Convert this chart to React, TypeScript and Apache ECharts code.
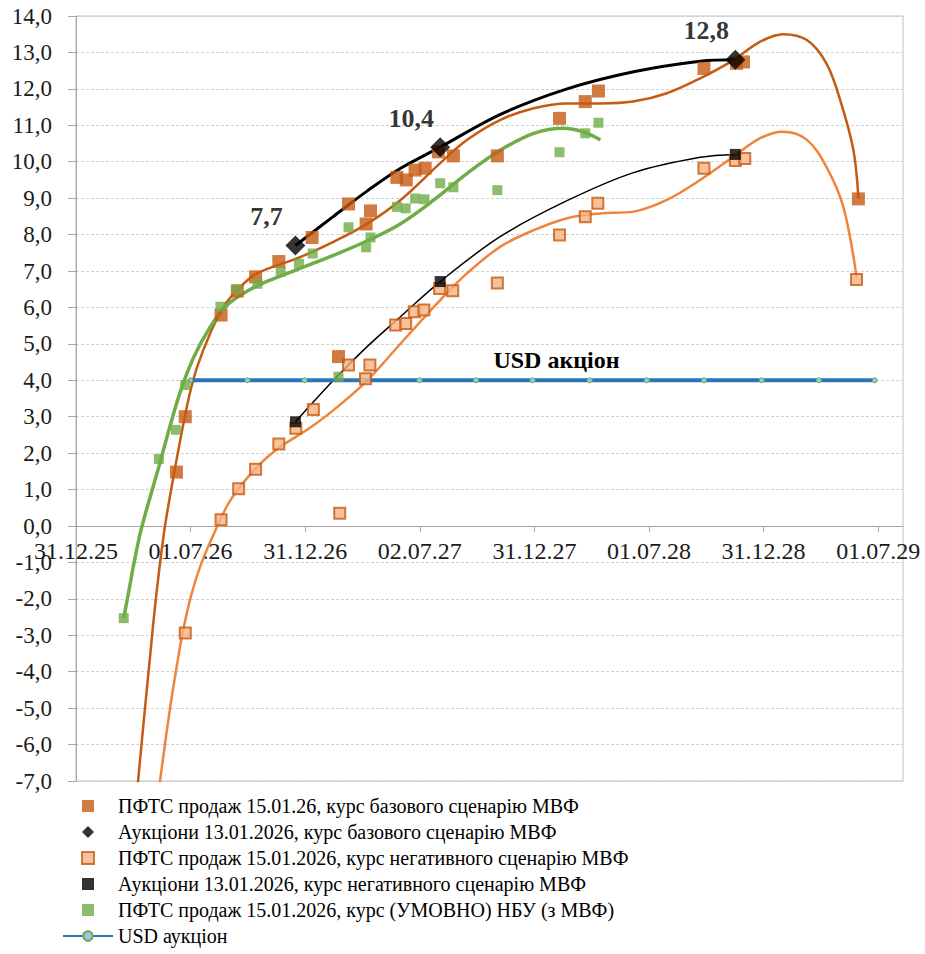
import React, { useEffect, useRef } from "react";
import * as echarts from "echarts";

// X values are days after 31.12.2025
const tickLabels = ["31.12.25", "01.07.26", "31.12.26", "02.07.27", "31.12.27", "01.07.28", "31.12.28", "01.07.29"];
const tickStep = 182.5;
const xMax = 1317;
const yMin = -7;
const yMax = 14;

const seriesNames = [
  "ПФТС продаж 15.01.26, курс базового сценарію МВФ",
  "Аукціони 13.01.2026, курс базового сценарію МВФ",
  "ПФТС продаж 15.01.2026, курс негативного сценарію МВФ",
  "Аукціони 13.01.2026, курс негативного сценарію МВФ",
  "ПФТС продаж 15.01.2026, курс (УМОВНО) НБУ (з МВФ)",
  "USD аукціон",
];
const usdLabelText = "USD акціон";

const baseDays = [160, 174, 231, 257, 286, 323, 376, 418, 434, 462, 469, 511, 526, 540, 556, 577, 601, 671, 770, 811, 832, 1000, 1052, 1063, 1246];
const baseVals = [1.48, 3.0, 5.79, 6.45, 6.84, 7.26, 7.92, 4.65, 8.84, 8.29, 8.65, 9.57, 9.5, 9.77, 9.82, 10.27, 10.16, 10.16, 11.19, 11.65, 11.94, 12.56, 12.7, 12.74, 8.98];

const negDays = [174, 231, 259, 286, 323, 350, 378, 420, 434, 461, 468, 509, 525, 539, 554, 579, 600, 671, 770, 811, 831, 1000, 1050, 1065, 1243];
const negVals = [-2.94, 0.17, 1.02, 1.56, 2.25, 2.68, 3.2, 0.35, 4.42, 4.04, 4.42, 5.52, 5.56, 5.88, 5.93, 6.52, 6.46, 6.67, 7.99, 8.49, 8.86, 9.82, 10.03, 10.09, 6.77];

const greenDays = [76, 132, 159, 174, 230, 257, 289, 326, 355, 377, 418, 434, 462, 469, 511, 525, 540, 555, 580, 601, 671, 770, 811, 832];
const greenVals = [-2.53, 1.84, 2.64, 3.87, 6.02, 6.5, 6.65, 6.98, 7.2, 7.48, 4.1, 8.2, 7.65, 7.92, 8.76, 8.72, 8.99, 8.97, 9.41, 9.3, 9.22, 10.26, 10.78, 11.07];

const auctionDays = [349.5, 580, 1050];
const auctionBaseVals = [7.7, 10.4, 12.8];
const auctionNegVals = [2.86, 6.71, 10.2];

const usdDays = [182, 273, 364, 456, 547, 637, 727, 818, 909, 1000, 1092, 1183, 1272];
const usdVals = [4.0, 4.0, 4.0, 4.0, 4.0, 4.0, 4.0, 4.0, 4.0, 4.0, 4.0, 4.0, 4.0];
const usdLabelIndex = 6;

// trend lines
const baseTrendDays = [94, 106, 117, 127, 140, 150, 167, 180, 193, 214, 235, 262, 289, 358, 410, 464, 517, 580, 623, 676, 729, 782, 835, 887, 941, 994, 1047, 1089, 1126, 1164, 1195, 1217, 1238, 1246];
const baseTrendVals = [-7.9, -5.69, -3.75, -2.03, -0.2, 0.85, 2.45, 3.55, 4.37, 5.3, 6.02, 6.57, 6.94, 7.39, 7.8, 8.3, 8.95, 9.96, 10.6, 11.15, 11.47, 11.6, 11.6, 11.65, 11.88, 12.29, 12.79, 13.29, 13.5, 13.34, 12.7, 11.69, 10.32, 9.0];

const negTrendDays = [127, 134, 144, 152, 160, 169, 182, 198, 220, 246, 289, 326, 368, 410, 464, 517, 580, 623, 676, 729, 782, 835, 888, 941, 994, 1047, 1089, 1126, 1164, 1195, 1222, 1243];
const negTrendVals = [-7.83, -6.97, -5.7, -4.75, -3.9, -3.0, -2.0, -1.1, -0.2, 0.71, 1.63, 2.18, 2.64, 3.18, 4.0, 5.01, 6.2, 6.94, 7.67, 8.12, 8.45, 8.58, 8.63, 8.95, 9.5, 10.14, 10.64, 10.82, 10.6, 9.86, 8.76, 6.84];

const greenTrendDays = [76, 84, 92, 103, 114, 132, 151, 167, 188, 214, 241, 273, 305, 358, 410, 464, 517, 570, 623, 676, 729, 776, 808, 835];
const greenTrendVals = [-2.53, -1.8, -1.05, -0.15, 0.55, 1.63, 2.82, 3.73, 4.65, 5.47, 6.07, 6.45, 6.72, 7.08, 7.43, 7.83, 8.3, 8.95, 9.68, 10.32, 10.78, 10.92, 10.82, 10.6];

const auctionBaseTrendDays = [349.5, 410, 464, 517, 580, 676, 782, 888, 994, 1050];
const auctionBaseTrendVals = [7.7, 8.5, 9.2, 9.82, 10.4, 11.3, 12.0, 12.47, 12.76, 12.8];

const auctionNegTrendDays = [349.5, 410, 464, 517, 580, 676, 782, 888, 994, 1050];
const auctionNegTrendVals = [2.86, 4.0, 4.93, 5.75, 6.71, 7.95, 8.93, 9.7, 10.12, 10.2];

const zip = (xs: number[], ys: number[]) => xs.map((x, i) => [x, ys[i]]);

const FONT = "Liberation Serif, Tinos, Times New Roman, DejaVu Serif, serif";
const SQUARE = "path://M0,0L1,0L1,1L0,1Z";
const DIAMOND = "path://M0.5,0L1,0.5L0.5,1L0,0.5Z";

const GRID_TOP = 16;
const GRID_BOTTOM = 173;
const CHART_H = 954;

export default function App() {
  const ref = useRef<HTMLDivElement>(null);
  useEffect(() => {
    if (!ref.current) return;
    const chart = echarts.init(ref.current, null, { renderer: "svg" });
    const plotH = CHART_H - GRID_TOP - GRID_BOTTOM;
    const zeroOffset = -((0 - yMin) / (yMax - yMin)) * plotH;
    const trend = (data: number[][], color: string, width: number) => ({
      type: "line",
      data,
      symbol: "none",
      smooth: 0.35,
      lineStyle: { color, width },
      silent: true,
      z: 2,
    });
    const option = {
      animation: false,
      textStyle: { fontFamily: FONT },
      grid: {
        left: 76,
        top: GRID_TOP,
        right: 22,
        bottom: GRID_BOTTOM,
        show: true,
        borderColor: "#BFBFBF",
        borderWidth: 1,
      },
      legend: {
        orient: "vertical",
        left: 62,
        top: 796,
        itemWidth: 50,
        itemHeight: 12,
        itemGap: 6,
        padding: 0,
        textStyle: { fontFamily: FONT, fontSize: 20, color: "#000", lineHeight: 20 },
        data: [
          { name: seriesNames[0], icon: SQUARE },
          { name: seriesNames[1], icon: DIAMOND },
          { name: seriesNames[2], icon: SQUARE },
          { name: seriesNames[3], icon: SQUARE },
          { name: seriesNames[4], icon: SQUARE },
          { name: seriesNames[5] },
        ],
      },
      xAxis: {
        type: "value",
        min: 0,
        max: xMax,
        position: "bottom",
        offset: zeroOffset,
        axisLine: { onZero: false, lineStyle: { color: "#A6A6A6", width: 1 } },
        axisTick: {
          show: true,
          length: 6,
          customValues: tickLabels.map((_, i) => i * tickStep),
          lineStyle: { color: "#A6A6A6" },
        },
        axisLabel: {
          customValues: tickLabels.map((_, i) => i * tickStep),
          formatter: (v: number) => tickLabels[Math.round(v / tickStep)] ?? "",
          fontFamily: FONT,
          fontSize: 24,
          color: "#1a1a1a",
          margin: 13,
        },
        splitLine: { show: false },
      },
      yAxis: {
        type: "value",
        min: yMin,
        max: yMax,
        interval: 1,
        axisLine: { show: true, lineStyle: { color: "#A6A6A6" } },
        axisTick: { show: true, length: 8, lineStyle: { color: "#A6A6A6" } },
        axisLabel: {
          formatter: (v: number) => v.toFixed(1).replace(".", ","),
          fontFamily: FONT,
          fontSize: 23,
          color: "#1a1a1a",
          margin: 24,
        },
        splitLine: { show: true, lineStyle: { color: "#D0D0D0", type: [3, 2], width: 1 } },
      },
      series: [
        trend(zip(baseTrendDays, baseTrendVals), "#C55A11", 2.5),
        trend(zip(negTrendDays, negTrendVals), "#F0843C", 2.5),
        trend(zip(greenTrendDays, greenTrendVals), "#70AD47", 3.5),
        trend(zip(auctionBaseTrendDays, auctionBaseTrendVals), "#000000", 3),
        trend(zip(auctionNegTrendDays, auctionNegTrendVals), "#000000", 1.5),
        {
          name: seriesNames[5],
          type: "line",
          data: usdDays.map((d, i) =>
            i === usdLabelIndex
              ? {
                  value: [d, usdVals[i]],
                  label: {
                    show: true,
                    formatter: usdLabelText,
                    position: "top",
                    offset: [24, 0],
                    fontFamily: FONT,
                    fontSize: 24,
                    fontWeight: "bold",
                    color: "#000",
                  },
                }
              : [d, usdVals[i]]
          ),
          symbol: "circle",
          symbolSize: 5,
          lineStyle: { color: "#2E75B6", width: 4 },
          itemStyle: { color: "#9DC3E6", borderColor: "#70AD47", borderWidth: 1 },
          z: 3,
        },
        {
          name: seriesNames[2],
          type: "scatter",
          data: zip(negDays, negVals),
          symbol: "rect",
          symbolSize: 11,
          itemStyle: { color: "#F4B183", borderColor: "#C55A11", borderWidth: 2 },
          z: 4,
        },
        {
          name: seriesNames[0],
          type: "scatter",
          data: zip(baseDays, baseVals),
          symbol: "rect",
          symbolSize: 13,
          itemStyle: { color: "#C55A11" },
          z: 4,
        },
        {
          name: seriesNames[4],
          type: "scatter",
          data: zip(greenDays, greenVals),
          symbol: "rect",
          symbolSize: 10,
          itemStyle: { color: "#70AD47" },
          z: 5,
        },
        {
          name: seriesNames[3],
          type: "scatter",
          data: zip(auctionDays, auctionNegVals),
          symbol: "rect",
          symbolSize: 11,
          itemStyle: { color: "#000000" },
          z: 6,
        },
        {
          name: seriesNames[1],
          type: "scatter",
          data: zip(auctionDays, auctionBaseVals),
          symbol: "diamond",
          symbolSize: 20,
          itemStyle: { color: "#000000" },
          label: {
            show: true,
            position: "top",
            offset: [-29, -1],
            formatter: (p: any) => p.value[1].toFixed(1).replace(".", ","),
            fontFamily: FONT,
            fontSize: 26,
            fontWeight: "bold",
            color: "#000",
          },
          z: 6,
        },
      ],
    };
    chart.setOption(option as any);
    return () => chart.dispose();
  }, []);
  return (
    <div
      ref={ref}
      style={{ position: "fixed", left: 0, top: 0, width: 925, height: 954, background: "#fff" }}
    />
  );
}
